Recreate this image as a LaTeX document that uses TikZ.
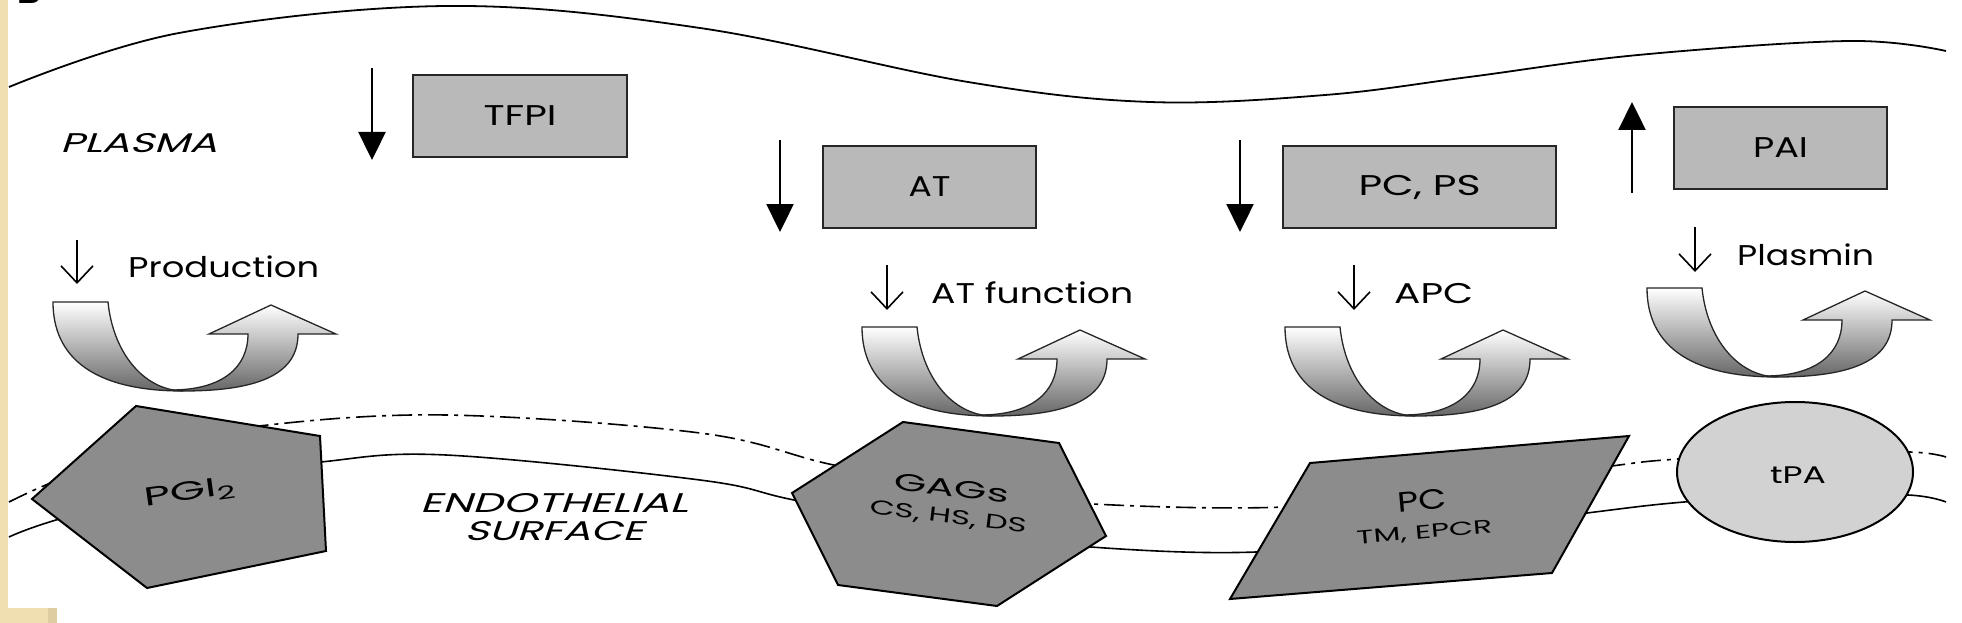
\documentclass[tikz,border=0pt]{standalone}
\usepackage{fontspec}
\usepackage{graphicx}
\setmainfont{Poppins}
\newfontfamily\slfont{Poppins}[FakeSlant=0.22]
\usetikzlibrary{arrows.meta,shapes.geometric}
\newcommand{\fitw}[2]{\resizebox{#1}{\height}{#2}}
\definecolor{beige}{RGB}{240,223,176}
\definecolor{beigedark}{RGB}{222,205,160}
\definecolor{boxgray}{RGB}{185,185,185}
\definecolor{shapegray}{RGB}{140,140,140}
\definecolor{tpagray}{RGB}{210,210,210}
\tikzset{
  bigarrow/.style={line width=2.4pt,-{Triangle[length=28pt,width=27pt]}},
  thinarrow/.style={line width=1.6pt,-{Straight Barb[length=17pt,width=32pt,line width=1.6pt]}},
  factorbox/.style={draw=black!85,fill=boxgray,line width=2pt,minimum height=82pt,inner sep=0pt,font=\fontsize{28.5}{30}\selectfont},
  lbl/.style={anchor=base west,inner sep=0pt,font=\fontsize{28.5}{30}\selectfont},
  shapeborder/.style={draw=black,line width=2pt,fill=shapegray},
  membrane/.style={line width=1.6pt},
  dashdot/.style={line width=1.6pt,dash pattern=on 20pt off 6pt on 4pt off 6pt},
  ushade/.style={top color=white,bottom color=black!60,draw=black!85,line width=1.3pt},
  uturn/.pic={
    \shadedraw[ushade] (118,88) .. controls (170,88) and (195,65) .. (195,32)
      -- (156,32) -- (218,3) -- (283,32) -- (245,32)
      .. controls (245,70) and (210,89) .. (130,89) -- cycle;
    \shadedraw[ushade] (0,0) -- (55,0) .. controls (60,50) and (90,88) .. (130,89)
      .. controls (40,89) and (0,55) .. (0,0) -- cycle;
  }
}
\begin{document}
\begin{tikzpicture}[x=1pt,y=-1pt]
\useasboundingbox (0,0) rectangle (1962,623);
\clip (0,0) rectangle (1962,623);
\fill[white] (0,0) rectangle (1962,623);
\fill[beige] (0,0) rectangle (8,623);
\fill[beige] (0,608) rectangle (57,623);
\fill[beigedark] (48,608) rectangle (57,623);
\node[anchor=base west,inner sep=0pt,font=\fontsize{36}{38}\selectfont\bfseries] (letterB) at (17,4) {B};

% top plasma boundary
\draw[line width=1.8pt] plot[smooth,tension=0.6] coordinates {(9,87) (179,33) (446,6) (700,28) (968,82) (1150,102) (1325,95) (1469,77) (1638,55) (1849,41) (1946,51)};

% membrane lines
\draw[dashdot] plot[smooth,tension=0.6] coordinates {(9,502) (58,480) (150,448) (259,426) (446,415) (700,433) (829,464) (960,490) (1093,504) (1285,507) (1450,490) (1612,466) (1678,459) (1800,452) (1910,452) (1946,457)};
\draw[membrane] plot[smooth,tension=0.6] coordinates {(9,537) (56,520) (200,480) (321,462) (446,455) (700,480) (794,500) (950,530) (1091,547) (1256,552) (1420,535) (1587,513) (1684,502) (1800,495) (1908,495) (1946,502)};

% region labels
\node[anchor=base west,inner sep=0pt,font=\fontsize{27}{28}\selectfont\slfont] (plasma) at (60,153) {\fitw{157pt}{PLASMA}};
\node[anchor=base,inner sep=0pt,font=\fontsize{27}{28}\selectfont\slfont] (endo) at (554,512) {\fitw{268pt}{ENDOTHELIAL}};
\node[anchor=base,inner sep=0pt,font=\fontsize{27}{28}\selectfont\slfont] (surf) at (554,540) {\fitw{179pt}{SURFACE}};

% factor boxes
\node[factorbox,minimum width=214pt] (tfpi) at (520,116) {\fitw{73pt}{TFPI}};
\node[factorbox,minimum width=213pt] (at) at (929.5,187) {\fitw{42pt}{AT}};
\node[factorbox,minimum width=273pt] (pcps) at (1419.5,187) {\fitw{122pt}{PC, PS}};
\node[factorbox,minimum width=213pt] (pai) at (1780.5,148) {\fitw{55pt}{PAI}};

% big arrows
\coordinate (a1s) at (372,68);  \coordinate (a1e) at (372,160);
\coordinate (a2s) at (780,140); \coordinate (a2e) at (780,232);
\coordinate (a3s) at (1240,140); \coordinate (a3e) at (1240,232);
\coordinate (a4s) at (1632,193); \coordinate (a4e) at (1632,102);
\draw[bigarrow] (a1s) -- (a1e);
\draw[bigarrow] (a2s) -- (a2e);
\draw[bigarrow] (a3s) -- (a3e);
\draw[bigarrow] (a4s) -- (a4e);

% small down arrows and texts
\coordinate (t1s) at (77,240);  \coordinate (t1e) at (77,284);
\coordinate (t2s) at (887,265); \coordinate (t2e) at (887,310);
\coordinate (t3s) at (1354,265); \coordinate (t3e) at (1354,310);
\coordinate (t4s) at (1695,227); \coordinate (t4e) at (1695,272);
\draw[thinarrow] (t1s) -- (t1e);
\draw[thinarrow] (t2s) -- (t2e);
\draw[thinarrow] (t3s) -- (t3e);
\draw[thinarrow] (t4s) -- (t4e);
\node[lbl] (prod) at (128,277) {\fitw{191pt}{Production}};
\node[lbl] (atf) at (931,303) {\fitw{202pt}{AT function}};
\node[lbl] (apc) at (1394,303) {\fitw{79pt}{APC}};
\node[lbl] (plasmin) at (1737,265) {\fitw{137pt}{Plasmin}};

% U-turn arrows
\pic at (53,302) {uturn};
\pic at (862,327) {uturn};
\pic at (1285,327) {uturn};
\pic at (1647,288) {uturn};

% endothelial molecules
\draw[shapeborder] (136,406) -- (320,436) -- (326,551) -- (147,588) -- (32,499) -- cycle;
\node[font=\fontsize{26}{28}\selectfont,rotate=8,inner sep=0pt] (pgi) at (190,493) {\fitw{92pt}{PGI\textsubscript{2}}};

\draw[shapeborder] (903,422) -- (1059,443) -- (1106,536) -- (997,606) -- (838,585) -- (792,493) -- cycle;
\node[align=center,rotate=-7,inner sep=0pt,font=\fontsize{20}{27}\selectfont] (gags) at (950,503)
  {{\fontsize{24}{27}\selectfont\fitw{115pt}{GAGs}}\\{\fontsize{20}{27}\selectfont\fitw{158pt}{CS, HS, DS}}};

\draw[shapeborder] (1310,463) -- (1629,436) -- (1552,573) -- (1230,599) -- cycle;
\node[align=center,rotate=5,inner sep=0pt,font=\fontsize{19}{28}\selectfont] (pc) at (1423,516)
  {{\fontsize{28}{28}\selectfont\fitw{49pt}{PC}}\\{\fontsize{19}{28}\selectfont\fitw{136pt}{TM, EPCR}}};

\draw[draw=black,line width=2pt,fill=tpagray] (1795,472) ellipse [x radius=118,y radius=70];
\node[font=\fontsize{24}{26}\selectfont,inner sep=0pt] (tpa) at (1798,475) {\fitw{56pt}{tPA}};
\end{tikzpicture}
\end{document}
